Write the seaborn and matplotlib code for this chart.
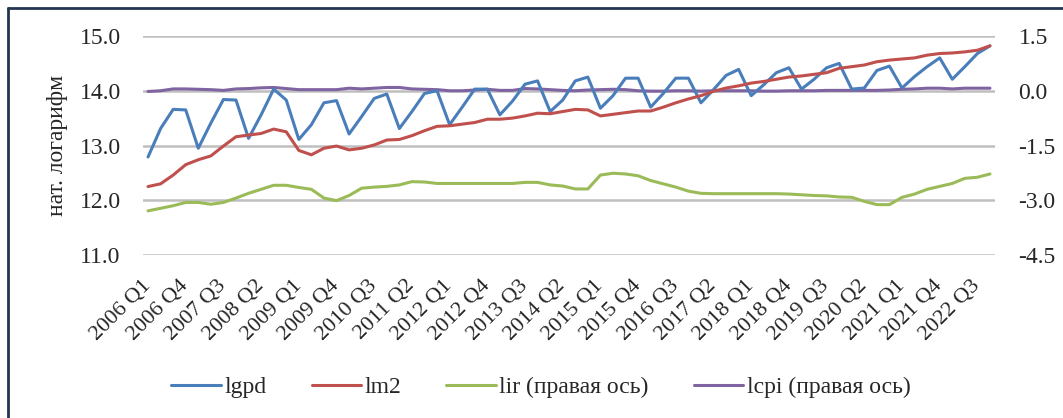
import numpy as np
import matplotlib
matplotlib.use("Agg")
import matplotlib.pyplot as plt
from matplotlib.lines import Line2D
import seaborn as sns

# quarters 2006 Q1 .. 2022 Q4
quarters = [f"{y} Q{q}" for y in range(2006, 2023) for q in range(1, 5)]

# left axis (нат. логарифм)
lgpd = [12.79, 13.31, 13.66, 13.65, 12.95, 13.41, 13.84, 13.83, 13.13, 13.56,
        14.03, 13.83, 13.11, 13.38, 13.78, 13.82, 13.21, 13.53, 13.86, 13.94,
        13.31, 13.62, 13.95, 14.00, 13.38, 13.70, 14.03, 14.03, 13.56, 13.81,
        14.12, 14.18, 13.62, 13.83, 14.18, 14.25, 13.68, 13.91, 14.23, 14.23,
        13.70, 13.95, 14.23, 14.23, 13.78, 14.02, 14.28, 14.39, 13.91, 14.11,
        14.33, 14.42, 14.03, 14.21, 14.42, 14.50, 14.03, 14.05, 14.37, 14.45,
        14.05, 14.26, 14.44, 14.60, 14.21, 14.44, 14.68, 14.82]
lm2 = [12.25, 12.30, 12.46, 12.65, 12.74, 12.81, 12.99, 13.16, 13.19, 13.22,
       13.30, 13.25, 12.91, 12.83, 12.95, 12.99, 12.92, 12.95, 13.01, 13.10,
       13.11, 13.18, 13.27, 13.35, 13.36, 13.39, 13.42, 13.48, 13.48, 13.50,
       13.54, 13.59, 13.58, 13.62, 13.66, 13.65, 13.54, 13.57, 13.60, 13.63,
       13.63, 13.70, 13.78, 13.85, 13.91, 13.99, 14.05, 14.09, 14.14, 14.17,
       14.21, 14.25, 14.27, 14.30, 14.33, 14.41, 14.44, 14.47, 14.53, 14.56,
       14.58, 14.60, 14.65, 14.68, 14.69, 14.71, 14.74, 14.82]

# right axis
lir = [-3.29, -3.22, -3.15, -3.06, -3.06, -3.11, -3.06, -2.94, -2.81, -2.70,
       -2.59, -2.59, -2.65, -2.70, -2.94, -3.01, -2.87, -2.67, -2.64, -2.62,
       -2.58, -2.49, -2.50, -2.54, -2.54, -2.54, -2.54, -2.54, -2.54, -2.54,
       -2.51, -2.51, -2.58, -2.61, -2.69, -2.69, -2.31, -2.26, -2.28, -2.33,
       -2.46, -2.55, -2.64, -2.75, -2.81, -2.82, -2.82, -2.82, -2.82, -2.82,
       -2.82, -2.83, -2.85, -2.87, -2.88, -2.91, -2.92, -3.03, -3.12, -3.12,
       -2.92, -2.83, -2.70, -2.62, -2.54, -2.40, -2.37, -2.28]
lcpi = [-0.02, 0.00, 0.05, 0.05, 0.04, 0.03, 0.01, 0.05, 0.06, 0.08,
        0.09, 0.06, 0.03, 0.03, 0.03, 0.03, 0.07, 0.05, 0.07, 0.09,
        0.09, 0.05, 0.04, 0.03, 0.00, 0.00, 0.02, 0.04, 0.01, 0.01,
        0.06, 0.05, 0.03, 0.01, 0.00, 0.02, 0.03, 0.04, 0.03, 0.00,
        -0.01, -0.01, 0.00, 0.00, -0.01, 0.00, 0.00, 0.00, 0.00, -0.01,
        -0.01, 0.00, 0.00, 0.00, 0.01, 0.01, 0.01, 0.01, 0.01, 0.02,
        0.04, 0.05, 0.07, 0.07, 0.05, 0.07, 0.07, 0.07]

left_ticks = [11.0, 12.0, 13.0, 14.0, 15.0]
right_ticks = [-4.5, -3.0, -1.5, 0.0, 1.5]

colors = {"lgpd": "#4a7ebb", "lm2": "#c0504d", "lir": "#9bbb59", "lcpi": "#8064a2"}
labels = {"lgpd": "lgpd", "lm2": "lm2", "lir": "lir (правая ось)", "lcpi": "lcpi (правая ось)"}
order = ["lgpd", "lm2", "lir", "lcpi"]
grid_color = "#bfbfbf"

sns.set_theme(style="white")
plt.rcParams["font.family"] = ["Liberation Serif", "DejaVu Serif"]

fig = plt.figure(figsize=(10.63, 4.18), dpi=100)
ax = fig.add_axes([143 / 1063, 1 - 255 / 418, (995 - 143) / 1063, 219 / 418])
ax2 = ax.twinx()

x = np.arange(len(quarters))
lw = 2.2

sns.lineplot(x=x, y=lir, ax=ax2, color=colors["lir"], linewidth=lw)
sns.lineplot(x=x, y=lcpi, ax=ax2, color=colors["lcpi"], linewidth=lw)
sns.lineplot(x=x, y=lgpd, ax=ax, color=colors["lgpd"], linewidth=lw)
sns.lineplot(x=x, y=lm2, ax=ax, color=colors["lm2"], linewidth=lw)

ax.set_xlim(-0.4, len(quarters) - 0.6)
ax.set_ylim(11, 15)
ax2.set_ylim(-4.5, 1.5)
ax.set_yticks(left_ticks)
ax.set_yticklabels([f"{v:.1f}" for v in left_ticks], fontsize=17)
ax2.set_yticks(right_ticks)
ax2.set_yticklabels([f"{v:.1f}" for v in right_ticks], fontsize=17)

tick_idx = list(range(0, len(quarters), 3))
ax.set_xticks(tick_idx)
ax.set_xticklabels([quarters[i] for i in tick_idx], rotation=45, ha="right",
                   va="center", rotation_mode="anchor", fontsize=16)
ax.tick_params(axis="x", length=0, pad=20)
ax.tick_params(axis="y", length=0, pad=16)
ax2.tick_params(axis="y", length=0, pad=17)
ax.set_ylabel("нат. логарифм", fontsize=17, labelpad=8)
ax.set_xlabel("")

ax.set_zorder(ax2.get_zorder() + 1)
ax.patch.set_visible(False)

for a in (ax, ax2):
    for s in a.spines.values():
        s.set_visible(False)

# horizontal gridlines on the lower axes (right ticks line up with the left ones)
ax2.yaxis.grid(True, color=grid_color, linewidth=1.8)
ax2.set_axisbelow(True)

handles = [Line2D([], [], color=colors[k], linewidth=lw) for k in order]
fig.legend(handles, [labels[k] for k in order],
           loc="center", bbox_to_anchor=(541 / 1063, 1 - 387 / 418), ncol=4,
           frameon=False, fontsize=17, handlelength=2.1, handletextpad=0.15,
           columnspacing=1.9)

# chart frame (top and left edges visible)
fig.add_artist(Line2D([8 / 1063, 1], [1 - 8 / 418, 1 - 8 / 418], transform=fig.transFigure,
                      color="#243550", linewidth=2))
fig.add_artist(Line2D([8 / 1063, 8 / 1063], [0, 1 - 8 / 418], transform=fig.transFigure,
                      color="#243550", linewidth=2))

fig.savefig("out.png", dpi=100, facecolor="white")
